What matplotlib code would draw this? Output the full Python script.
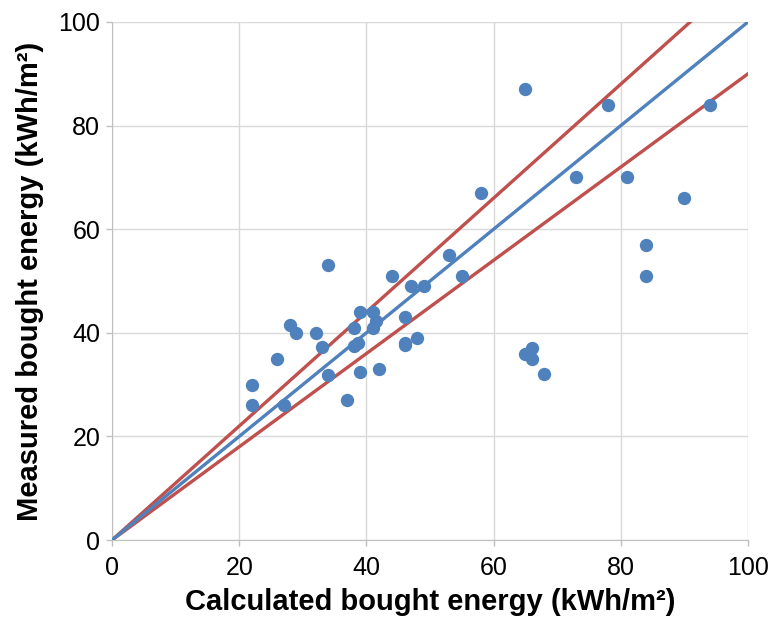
import matplotlib
matplotlib.use("Agg")
import matplotlib.pyplot as plt

plt.rcParams['font.family'] = ['Liberation Sans', 'DejaVu Sans']

# calculated vs measured bought energy (kWh/m2)
calc = [65, 78, 94, 73, 81, 58, 90, 53, 55, 84, 84, 65, 66, 66, 68,
        34, 44, 47, 49, 39, 41, 41.5, 41, 38, 46, 28, 29, 32, 33, 38,
        38.6, 46, 46, 48, 26, 34, 39, 42, 22, 22, 27, 37]
meas = [87, 84, 84, 70, 70, 67, 66, 55, 51, 57, 51, 36, 37, 35, 32,
        53, 51, 49, 49, 44, 44, 42.3, 41, 41, 43, 41.5, 40, 40, 37.3, 37.5,
        38, 38, 37.6, 39, 35, 31.8, 32.5, 33, 30, 26, 26, 27]

line_x = [0, 100]
slopes = {'upper': 1.1, 'equal': 1.0, 'lower': 0.9}

fig = plt.figure(figsize=(7.7, 6.23), dpi=100)
ax = fig.add_axes([0.1455, 0.1332, 0.8259, 0.8315])

ax.plot(line_x, [v * slopes['upper'] for v in line_x], color='#c0504d', lw=2.4, zorder=2)
ax.plot(line_x, [v * slopes['lower'] for v in line_x], color='#c0504d', lw=2.4, zorder=2)
ax.plot(line_x, [v * slopes['equal'] for v in line_x], color='#4f81bd', lw=2.4, zorder=3)
ax.scatter(calc, meas, s=92, color='#4f81bd', zorder=4, linewidths=0)

ax.set_xlim(0, 100)
ax.set_ylim(0, 100)
ax.set_xticks(range(0, 101, 20))
ax.set_yticks(range(0, 101, 20))
ax.grid(True, color='#d9d9d9', lw=1)
ax.set_axisbelow(True)
for s in ['top', 'right']:
    ax.spines[s].set_visible(False)
for s in ['left', 'bottom']:
    ax.spines[s].set_color('#bfbfbf')
ax.tick_params(colors='#bfbfbf', labelcolor='black', labelsize=18, length=4.5, width=1)
ax.tick_params(axis='x', pad=7)
ax.tick_params(axis='y', pad=4)

ax.set_xlabel('Calculated bought energy (kWh/m²)', fontsize=21, fontweight='bold', labelpad=6)
ax.set_ylabel('Measured bought energy (kWh/m²)', fontsize=21, fontweight='bold', labelpad=10)

fig.savefig('out.png', dpi=100)
